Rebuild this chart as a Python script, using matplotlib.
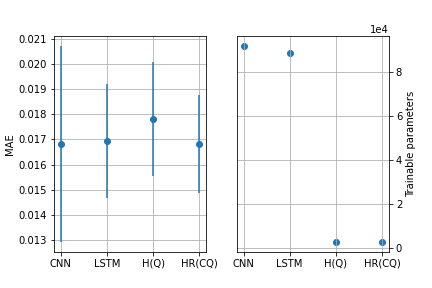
import matplotlib
matplotlib.use("Agg")
import matplotlib.pyplot as plt

models = ["CNN", "LSTM", "H(Q)", "HR(CQ)"]
mae_mean = [0.01682, 0.01693, 0.01780, 0.01682]
mae_err = [0.00390, 0.00227, 0.00226, 0.00195]
trainable_params = [91800, 88600, 2800, 2800]


def main() -> None:
    fig, (ax1, ax2) = plt.subplots(1, 2, figsize=(6, 4), dpi=72)
    fig.subplots_adjust(bottom=0.125, top=0.875)

    ax1.errorbar(models, mae_mean, yerr=mae_err, fmt="o")
    ax1.set_ylabel("MAE")
    ax1.grid(True)

    ax2.scatter(models, trainable_params)
    ax2.set_ylabel("Trainable parameters")
    ax2.yaxis.tick_right()
    ax2.yaxis.set_label_position("right")
    ax2.ticklabel_format(axis="y", style="sci", scilimits=(0, 0))
    ax2.grid(True)

    fig.savefig("out.png")


if __name__ == "__main__":
    main()
